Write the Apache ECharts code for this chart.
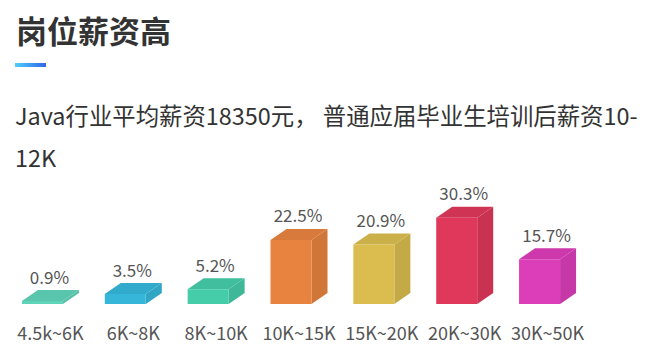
<!DOCTYPE html>
<html>
<head>
<meta charset="utf-8">
<script src="https://cdn.jsdelivr.net/npm/echarts@6/dist/echarts.min.js"></script>
<style>
html,body{margin:0;padding:0;background:#fff;}
#chart{width:650px;height:364px;}
</style>
</head>
<body>
<div id="chart"></div>
<script>
const titleText = '岗位薪资高';
const subText = 'Java行业平均薪资18350元， 普通应届毕业生培训后薪资10-\n12K';
const categories = ['4.5k~6K', '6K~8K', '8K~10K', '10K~15K', '15K~20K', '20K~30K', '30K~50K'];
const values = [0.9, 3.5, 5.2, 22.5, 20.9, 30.3, 15.7];
const colors = ['#5fd4b9', '#36b7da', '#45cca9', '#e8833f', '#dabd4e', '#e0385b', '#dc3db9'];

function shade(hex, f) {
  const n = parseInt(hex.slice(1), 16);
  const r = Math.round(((n >> 16) & 255) * f);
  const g = Math.round(((n >> 8) & 255) * f);
  const b = Math.round((n & 255) * f);
  return 'rgb(' + r + ',' + g + ',' + b + ')';
}

const chart = echarts.init(document.getElementById('chart'), null, {renderer: 'svg'});
const FONT = '"Noto Sans CJK SC", "Noto Sans", sans-serif';

chart.setOption({
  animation: false,
  grid: {left: 9, right: 61, top: 190, bottom: 60},
  xAxis: {
    type: 'category',
    data: categories,
    axisLine: {show: false},
    axisTick: {show: false},
    axisLabel: {fontSize: 18, color: '#555', margin: 19, interval: 0, fontFamily: FONT}
  },
  yAxis: {type: 'value', min: 0, max: 40, show: false, splitLine: {show: false}},
  graphic: [
    {type: 'text', left: 16, top: 14, style: {text: titleText, fontSize: 31, fontWeight: 'bold', fill: '#333', fontFamily: FONT}},
    {type: 'rect', left: 15, top: 63, shape: {width: 31, height: 4},
      style: {fill: new echarts.graphic.LinearGradient(0, 0, 1, 0, [{offset: 0, color: '#4fd0f7'}, {offset: 1, color: '#2f66e8'}])}},
    {type: 'text', left: 15, top: 94, style: {text: subText, fontSize: 23.4, lineHeight: 42, fill: '#333', fontFamily: FONT}}
  ],
  series: [{
    type: 'custom',
    data: values.map((v, i) => [i, v]),
    renderItem: function (params, api) {
      const idx = api.value(0);
      const v = api.value(1);
      const base = api.coord([idx, 0]);
      const topP = api.coord([idx, v]);
      const fw = 41, dx = 16, dy = 11;
      const l = base[0] - (fw + dx) / 2;
      const r = l + fw;
      const by = base[1];
      const ty = Math.min(topP[1], by - 3);
      const c = colors[idx];
      return {
        type: 'group',
        children: [
          {type: 'polygon', shape: {points: [[r, ty], [r + dx, ty - dy], [r + dx, by - dy], [r, by]]}, style: {fill: shade(c, 0.9)}},
          {type: 'polygon', shape: {points: [[l, ty], [l + dx, ty - dy], [r + dx, ty - dy], [r, ty]]}, style: {fill: shade(c, 0.93)}},
          {type: 'polygon', shape: {points: [[l, ty], [r, ty], [r, by], [l, by]]}, style: {fill: c}},
          {type: 'text', x: base[0] - 1, y: ty - dy - 14, style: {text: v + '%', fontSize: 17, fill: '#555', align: 'center', verticalAlign: 'middle', fontFamily: FONT}}
        ]
      };
    }
  }]
});
</script>
</body>
</html>
